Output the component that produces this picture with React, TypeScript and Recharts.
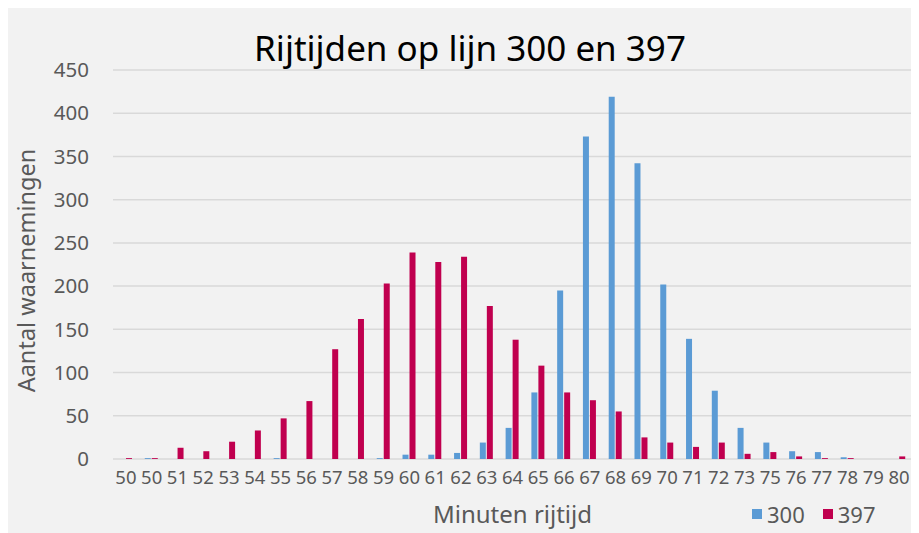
import { BarChart, Bar, XAxis, YAxis, CartesianGrid, Label } from 'recharts';

const minutes = ['50', '50', '51', '52', '53', '54', '55', '56', '57', '58', '59', '60', '61', '62', '63', '64', '65', '66', '67', '68', '69', '70', '71', '72', '73', '75', '76', '77', '78', '79', '80'];
const line300 = [0, 1, 0, 0, 0, 0, 1, 0, 0, 0, 1, 5, 5, 7, 19, 36, 77, 195, 373, 419, 342, 202, 139, 79, 36, 19, 9, 8, 2, 0, 0];
const line397 = [1, 1, 13, 9, 20, 33, 47, 67, 127, 162, 203, 239, 228, 234, 177, 138, 108, 77, 68, 55, 25, 19, 14, 19, 6, 8, 3, 1, 1, 0, 3];
const yTicks = [0, 50, 100, 150, 200, 250, 300, 350, 400, 450];

const BLUE = '#5b9bd5';
const RED = '#c0004f';
const FONT = '"Noto Sans", sans-serif';

const data = minutes.map((m, i) => ({ minute: m, s300: line300[i], s397: line397[i] }));

function LegendBox() {
  const item = (color: string, text: string) => (
    <span style={{ display: 'inline-flex', alignItems: 'center', marginRight: 18 }}>
      <span style={{ width: 10, height: 10, background: color, display: 'inline-block', marginRight: 5 }} />
      <span style={{ fontSize: 22, color: '#595959', fontFamily: FONT }}>{text}</span>
    </span>
  );
  return (
    <div style={{ position: 'absolute', left: 744, top: 491, display: 'flex' }}>
      {item(BLUE, '300')}
      {item(RED, '397')}
    </div>
  );
}

export default function App() {
  return (
    <div style={{ position: 'relative', width: 911, height: 525, background: '#f2f2f2', fontFamily: FONT }}>
      <div
        style={{
          position: 'absolute',
          left: 0,
          width: 924,
          top: 16,
          textAlign: 'center',
          fontSize: 35,
          color: '#000',
        }}
      >
        Rijtijden op lijn 300 en 397
      </div>
      <BarChart
        width={911}
        height={525}
        data={data}
        margin={{ top: 62, right: 7, left: 0, bottom: 44 }}
        barGap={1}
        barSize={6}
      >
        <CartesianGrid vertical={false} stroke="#d9d9d9" strokeWidth={1.5} />
        <XAxis
          dataKey="minute"
          interval={0}
          tickLine={false}
          axisLine={false}
          height={30}
          tick={{ fill: '#595959', fontSize: 18.5, fontFamily: FONT }}
          dy={4}
        >
          <Label value="Minuten rijtijd" position="insideBottom" offset={-34} dx={0} fill="#595959" fontSize={24} fontFamily={FONT} />
        </XAxis>
        <YAxis
          width={105}
          domain={[0, 450]}
          ticks={yTicks}
          interval={0}
          tickLine={false}
          axisLine={false}
          tick={{ fill: '#595959', fontSize: 20.5, fontFamily: FONT }}
          dx={-16}
        >
          <Label value="Aantal waarnemingen" angle={-90} position="insideLeft" dx={14} dy={6} fill="#595959" fontSize={23.5} fontFamily={FONT} style={{ textAnchor: 'middle' }} />
        </YAxis>
        <Bar dataKey="s300" name="300" fill={BLUE} isAnimationActive={false} />
        <Bar dataKey="s397" name="397" fill={RED} isAnimationActive={false} />
      </BarChart>
      <LegendBox />
    </div>
  );
}
